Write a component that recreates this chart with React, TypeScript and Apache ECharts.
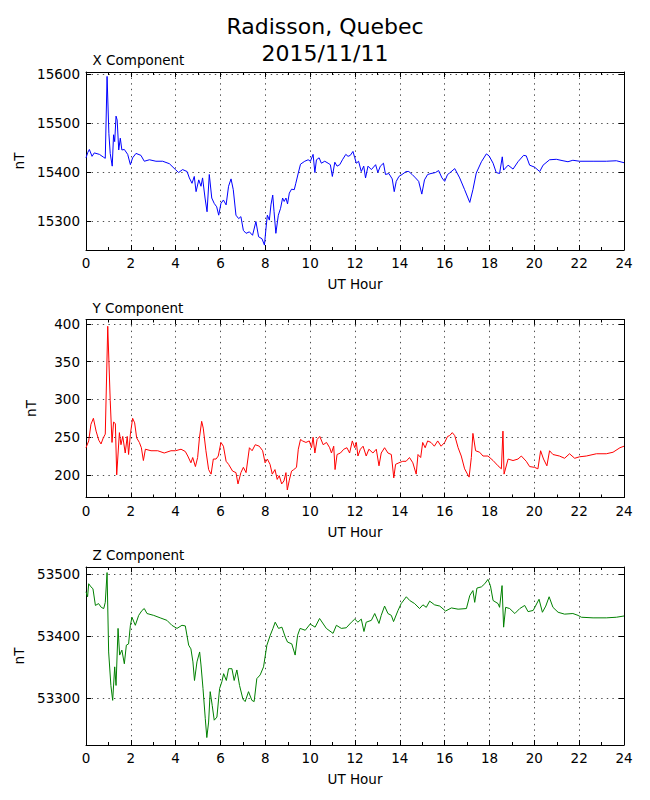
import React, { useEffect, useRef } from "react";
import * as echarts from "echarts";

// ---------- data (hour, nT) ----------
const xComponent: [number, number][] = [
  [0, 15429], [0.08, 15440], [0.15, 15446], [0.27, 15432], [0.37, 15439], [0.6, 15436], [0.79, 15430], [0.86, 15428],
  [0.94, 15595], [1.02, 15479], [1.08, 15438], [1.17, 15412], [1.23, 15476], [1.28, 15462], [1.34, 15514], [1.39, 15506],
  [1.46, 15445], [1.53, 15469], [1.6, 15445], [1.71, 15446], [1.86, 15436], [1.98, 15415], [2.08, 15429], [2.23, 15438],
  [2.45, 15434], [2.6, 15422], [2.83, 15425], [3.12, 15422], [3.42, 15422], [3.72, 15417], [3.99, 15405], [4.13, 15399],
  [4.31, 15405], [4.51, 15401], [4.61, 15388], [4.73, 15377], [4.83, 15391], [4.91, 15360], [5.03, 15384], [5.13, 15371],
  [5.2, 15388], [5.31, 15347], [5.4, 15319], [5.5, 15395], [5.61, 15347], [5.72, 15336], [5.83, 15329], [5.92, 15312],
  [6.02, 15336], [6.13, 15343], [6.25, 15333], [6.36, 15371], [6.47, 15386], [6.57, 15364], [6.69, 15312], [6.81, 15305],
  [6.91, 15309], [7.02, 15281], [7.14, 15275], [7.29, 15278], [7.43, 15271], [7.58, 15299], [7.7, 15268], [7.85, 15264],
  [7.96, 15251], [8.04, 15290], [8.09, 15312], [8.18, 15302], [8.25, 15333], [8.33, 15353], [8.39, 15319], [8.47, 15275],
  [8.58, 15312], [8.68, 15326], [8.77, 15347], [8.84, 15340], [8.92, 15347], [8.99, 15335], [9.07, 15357], [9.17, 15365],
  [9.29, 15364], [9.36, 15377], [9.47, 15398], [9.57, 15416], [9.76, 15422], [9.91, 15425], [10.01, 15422], [10.13, 15436],
  [10.21, 15399], [10.28, 15425], [10.4, 15429], [10.5, 15418], [10.65, 15422], [10.8, 15418], [10.9, 15415], [10.99, 15391],
  [11.1, 15420], [11.2, 15412], [11.32, 15415], [11.44, 15425], [11.59, 15436], [11.69, 15432], [11.79, 15434], [11.91, 15442],
  [11.99, 15429], [12.06, 15418], [12.16, 15422], [12.28, 15401], [12.39, 15412], [12.47, 15388], [12.58, 15412], [12.73, 15405],
  [12.92, 15415], [13.02, 15399], [13.13, 15412], [13.27, 15418], [13.36, 15395], [13.51, 15397], [13.66, 15386], [13.75, 15360],
  [13.84, 15381], [13.96, 15391], [14.1, 15395], [14.28, 15401], [14.4, 15401], [14.55, 15395], [14.7, 15388], [14.84, 15381],
  [14.98, 15355], [15.1, 15384], [15.24, 15395], [15.39, 15397], [15.59, 15399], [15.73, 15403], [15.88, 15388], [16.0, 15381],
  [16.13, 15395], [16.22, 15398], [16.45, 15407], [16.67, 15388], [16.89, 15364], [17.12, 15338], [17.26, 15364], [17.41, 15398],
  [17.64, 15421], [17.86, 15437], [17.98, 15433], [18.16, 15418], [18.3, 15399], [18.45, 15397], [18.57, 15431], [18.63, 15404],
  [18.83, 15414], [19.05, 15406], [19.27, 15421], [19.52, 15434], [19.64, 15433], [19.79, 15414], [20.01, 15410], [20.24, 15401],
  [20.39, 15414], [20.68, 15425], [20.98, 15426], [21.28, 15423], [21.5, 15421], [21.72, 15424], [22.02, 15422], [22.62, 15422],
  [23.21, 15422], [23.66, 15423], [24, 15419],
];

const yComponent: [number, number][] = [
  [0, 236], [0.12, 245], [0.22, 267], [0.33, 275], [0.45, 258], [0.57, 246], [0.67, 241], [0.77, 249], [0.86, 254],
  [0.97, 397], [1.08, 299], [1.16, 243], [1.23, 270], [1.31, 268], [1.37, 200], [1.49, 256], [1.56, 240], [1.64, 251],
  [1.75, 229], [1.84, 251], [1.9, 227], [1.98, 254], [2.08, 275], [2.17, 269], [2.26, 249], [2.38, 243], [2.47, 236],
  [2.56, 219], [2.65, 234], [2.9, 232], [3.2, 232], [3.49, 229], [3.79, 232], [3.99, 232], [4.24, 234], [4.43, 231],
  [4.54, 225], [4.68, 216], [4.76, 223], [4.88, 211], [4.98, 223], [5.06, 249], [5.16, 271], [5.23, 262], [5.35, 232],
  [5.47, 207], [5.58, 201], [5.68, 221], [5.8, 221], [5.9, 225], [6.02, 243], [6.13, 238], [6.25, 218], [6.36, 214],
  [6.54, 205], [6.69, 203], [6.78, 188], [6.91, 203], [7.02, 210], [7.14, 203], [7.29, 236], [7.41, 232], [7.55, 240],
  [7.73, 238], [7.88, 232], [7.99, 216], [8.09, 221], [8.21, 214], [8.31, 201], [8.43, 207], [8.53, 194], [8.62, 199],
  [8.73, 188], [8.83, 192], [8.92, 203], [8.98, 180], [9.07, 193], [9.17, 205], [9.27, 207], [9.39, 210], [9.47, 234],
  [9.57, 247], [9.66, 245], [9.81, 243], [9.96, 245], [10.06, 236], [10.13, 250], [10.21, 229], [10.31, 247], [10.43, 251],
  [10.58, 240], [10.73, 243], [10.87, 236], [10.95, 229], [11.05, 238], [11.11, 207], [11.2, 227], [11.35, 229], [11.5, 234],
  [11.64, 236], [11.76, 229], [11.88, 245], [11.99, 236], [12.06, 243], [12.13, 225], [12.24, 234], [12.36, 238], [12.5, 225],
  [12.62, 234], [12.8, 229], [12.95, 234], [13.07, 212], [13.17, 229], [13.32, 236], [13.47, 229], [13.62, 227], [13.73, 196],
  [13.81, 214], [13.96, 216], [14.13, 218], [14.28, 218], [14.43, 223], [14.58, 216], [14.73, 201], [14.81, 227], [14.93, 223],
  [15.02, 243], [15.13, 236], [15.24, 245], [15.39, 243], [15.54, 238], [15.69, 245], [15.84, 238], [16.0, 243], [16.13, 251],
  [16.22, 252], [16.34, 256], [16.45, 252], [16.6, 236], [16.74, 225], [16.89, 208], [17.09, 197], [17.19, 223], [17.26, 255],
  [17.38, 232], [17.56, 230], [17.71, 225], [17.93, 225], [18.16, 219], [18.38, 212], [18.53, 208], [18.6, 258], [18.65, 201],
  [18.83, 221], [19.05, 219], [19.27, 221], [19.42, 225], [19.64, 218], [19.79, 211], [20.01, 210], [20.16, 208], [20.28, 232],
  [20.41, 221], [20.56, 212], [20.68, 232], [20.83, 227], [21.12, 225], [21.35, 222], [21.57, 228], [21.8, 222], [22.02, 224],
  [22.32, 225], [22.77, 228], [23.21, 228], [23.51, 230], [23.82, 236], [24, 238],
];

const zComponent: [number, number][] = [
  [0, 53472], [0.07, 53464], [0.12, 53485], [0.22, 53480], [0.31, 53477], [0.42, 53450], [0.56, 53453], [0.68, 53447],
  [0.79, 53445], [0.86, 53455], [0.94, 53503], [1.01, 53375], [1.11, 53321], [1.19, 53297], [1.28, 53351], [1.34, 53321],
  [1.43, 53413], [1.5, 53370], [1.6, 53378], [1.71, 53356], [1.8, 53386], [1.9, 53388], [1.98, 53418], [2.05, 53431],
  [2.2, 53418], [2.35, 53434], [2.5, 53442], [2.6, 53445], [2.72, 53437], [3.02, 53434], [3.31, 53430], [3.61, 53426],
  [3.83, 53418], [4.06, 53413], [4.28, 53418], [4.43, 53417], [4.58, 53386], [4.68, 53380], [4.77, 53359], [4.84, 53329],
  [4.95, 53359], [5.07, 53375], [5.13, 53354], [5.22, 53316], [5.32, 53268], [5.39, 53237], [5.47, 53262], [5.54, 53311],
  [5.63, 53289], [5.72, 53265], [5.84, 53270], [5.96, 53316], [6.06, 53327], [6.14, 53340], [6.26, 53329], [6.36, 53348],
  [6.51, 53348], [6.61, 53329], [6.73, 53346], [6.85, 53321], [7.0, 53299], [7.1, 53295], [7.25, 53311], [7.4, 53297],
  [7.5, 53295], [7.62, 53332], [7.77, 53338], [7.92, 53351], [8.07, 53386], [8.22, 53402], [8.34, 53413], [8.44, 53423],
  [8.59, 53413], [8.74, 53415], [8.89, 53399], [8.99, 53391], [9.18, 53388], [9.33, 53370], [9.44, 53402], [9.55, 53413],
  [9.78, 53410], [10.0, 53420], [10.22, 53415], [10.42, 53429], [10.72, 53413], [11.02, 53405], [11.17, 53418], [11.39, 53413],
  [11.61, 53414], [11.84, 53423], [11.99, 53428], [12.13, 53423], [12.28, 53428], [12.4, 53408], [12.5, 53423], [12.73, 53426],
  [12.88, 53437], [13.07, 53421], [13.17, 53434], [13.32, 53449], [13.47, 53437], [13.62, 53434], [13.72, 53424], [13.92, 53442],
  [14.06, 53453], [14.29, 53464], [14.44, 53458], [14.66, 53453], [14.88, 53445], [15.03, 53451], [15.18, 53447], [15.33, 53457],
  [15.55, 53451], [15.78, 53449], [16.04, 53441], [16.3, 53446], [16.6, 53444], [16.97, 53445], [17.12, 53466], [17.26, 53474],
  [17.34, 53455], [17.44, 53478], [17.64, 53480], [17.79, 53485], [17.93, 53492], [18.04, 53482], [18.16, 53458], [18.38, 53453],
  [18.45, 53447], [18.56, 53482], [18.63, 53415], [18.72, 53447], [18.9, 53445], [19.13, 53437], [19.35, 53445], [19.57, 53450],
  [19.72, 53440], [19.95, 53442], [20.21, 53460], [20.36, 53439], [20.51, 53449], [20.66, 53464], [20.83, 53447], [21.06, 53439],
  [21.35, 53436], [21.72, 53437], [21.95, 53434], [22.1, 53431], [22.62, 53430], [23.21, 53430], [23.66, 53431], [24, 53433],
];

const panelTitles = ["X Component", "Y Component", "Z Component"];
const yRanges: [number, number][] = [[15241, 15604], [170, 406], [53225, 53512]];
const ySteps = [100, 50, 100];
const lineColors = ["#0000ff", "#ff0000", "#008000"];
const hourRange: [number, number] = [0, 24];
const hourStep = 2;
const mainTitleLines = ["Radisson, Quebec", "2015/11/11"];
const xAxisName = "UT Hour";
const yAxisName = "nT";

// ---------- layout ----------
const FONT = "DejaVu Sans";
const FS = 13.5;
const GRID_LEFT = 86;
const GRID_W = 538;
const GRID_H = 178;
const GRID_TOPS = [72, 319.5, 567];

function buildOption() {
  const datasets = [xComponent, yComponent, zComponent];
  const grid: any[] = [];
  const xAxis: any[] = [];
  const yAxis: any[] = [];
  const seriesList: any[] = [];
  const graphic: any[] = [];
  const dotted = { color: "#000", width: 0.7, type: [1.4, 4.2] };
  const textBase = { color: "#000", fontSize: FS, fontFamily: FONT };
  const plain = (v: number) => String(v);

  datasets.forEach((data, i) => {
    grid.push({ left: GRID_LEFT, top: GRID_TOPS[i], width: GRID_W, height: GRID_H, containLabel: false });
    const xCommon = {
      gridIndex: i,
      type: "value",
      min: hourRange[0],
      max: hourRange[1],
      interval: hourStep,
      axisLine: { onZero: false, lineStyle: { color: "#000", width: 1 } },
      axisTick: { inside: true, length: 5, lineStyle: { color: "#000", width: 1 } },
      minorTick: { show: true, splitNumber: 2, length: 3, lineStyle: { color: "#000", width: 1 } },
    };
    xAxis.push({
      ...xCommon,
      position: "bottom",
      axisLabel: { ...textBase, margin: 6, formatter: plain },
      splitLine: { show: true, lineStyle: dotted },
      name: xAxisName,
      nameLocation: "middle",
      nameGap: 27,
      nameTextStyle: textBase,
    });
    xAxis.push({
      ...xCommon,
      position: "top",
      axisLabel: { show: false },
      splitLine: { show: false },
    });
    const yCommon = {
      gridIndex: i,
      type: "value",
      min: yRanges[i][0],
      max: yRanges[i][1],
      minInterval: ySteps[i],
      maxInterval: ySteps[i],
      scale: true,
      axisLine: { show: true, onZero: false, lineStyle: { color: "#000", width: 1 } },
      axisTick: { show: true, inside: true, length: 5, lineStyle: { color: "#000", width: 1 } },
    };
    yAxis.push({
      ...yCommon,
      position: "left",
      axisLabel: { ...textBase, margin: 6, showMinLabel: false, showMaxLabel: false, formatter: plain },
      splitLine: { show: true, lineStyle: dotted },
      name: yAxisName,
      nameLocation: "middle",
      nameGap: 48,
      nameRotate: 90,
      nameTextStyle: textBase,
    });
    yAxis.push({
      ...yCommon,
      position: "right",
      axisLabel: { show: false },
      splitLine: { show: false },
    });
    seriesList.push({
      type: "line",
      xAxisIndex: i * 2,
      yAxisIndex: i * 2,
      data,
      showSymbol: false,
      symbol: "none",
      clip: true,
      lineStyle: { color: lineColors[i], width: 1 },
      itemStyle: { color: lineColors[i] },
      silent: true,
    });
    graphic.push({
      type: "text",
      x: 92.5,
      y: GRID_TOPS[i] - 12,
      style: {
        text: panelTitles[i],
        fontSize: FS,
        fontFamily: FONT,
        fill: "#000",
        align: "left",
        verticalAlign: "middle",
      },
    });
  });

  mainTitleLines.forEach((line, k) => {
    graphic.push({
      type: "text",
      x: 325,
      y: 26.7 + k * 27,
      style: {
        text: line,
        fontSize: 22,
        fontFamily: FONT,
        fill: "#000",
        align: "center",
        verticalAlign: "middle",
      },
    });
  });

  return {
    animation: false,
    backgroundColor: "#ffffff",
    grid,
    xAxis,
    yAxis,
    series: seriesList,
    graphic,
  };
}

export default function App() {
  const ref = useRef<HTMLDivElement>(null);
  useEffect(() => {
    if (!ref.current) return;
    const chart = echarts.init(ref.current, undefined, { renderer: "svg" });
    chart.setOption(buildOption() as any);
    return () => chart.dispose();
  }, []);
  return (
    <div
      ref={ref}
      style={{ position: "fixed", left: 0, top: 0, width: 650, height: 800, background: "#fff" }}
    />
  );
}
